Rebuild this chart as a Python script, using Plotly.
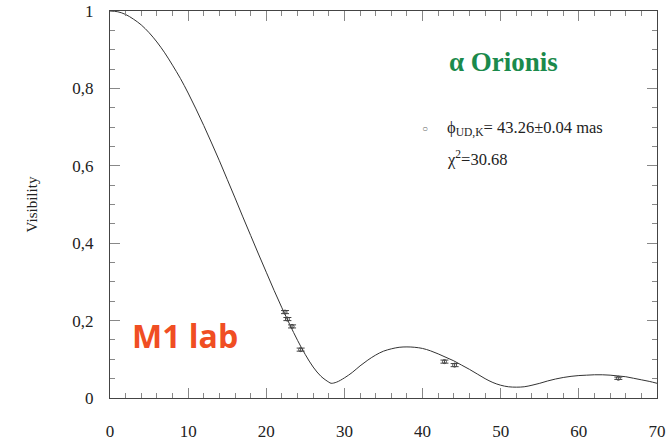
import plotly.graph_objects as go

# Model curve
curve_x = [0, 1, 2, 3, 4, 5, 6, 7, 8, 9, 10, 11, 12, 13, 14, 15, 16, 17, 18, 19, 20,
           21, 22, 23, 24, 25, 26, 27, 28, 28.3, 29, 30, 31, 32, 33, 34, 35, 36, 37, 38,
           39, 40, 41, 42, 43, 44, 45, 46, 47, 48, 49, 50, 51, 52, 53, 54, 55, 56, 57,
           58, 59, 60, 61, 62, 63, 64, 65, 66, 67, 68, 69, 70]
curve_y = [1.000, 0.998, 0.991, 0.979, 0.964, 0.944, 0.920, 0.892, 0.860, 0.826, 0.788,
           0.747, 0.704, 0.659, 0.613, 0.565, 0.517, 0.468, 0.420, 0.372, 0.325,
           0.278, 0.233, 0.190, 0.149, 0.112, 0.080, 0.056, 0.041, 0.038, 0.041, 0.052,
           0.066, 0.083, 0.098, 0.111, 0.121, 0.127, 0.131, 0.132, 0.131, 0.128, 0.122,
           0.114, 0.105, 0.096, 0.085, 0.074, 0.062, 0.050, 0.040, 0.033, 0.029, 0.028,
           0.029, 0.033, 0.038, 0.044, 0.049, 0.053, 0.056, 0.058, 0.059, 0.060, 0.060,
           0.059, 0.057, 0.055, 0.051, 0.047, 0.043, 0.038]

# Measured visibilities
obs_x = [22.4, 22.7, 23.3, 24.4, 42.8, 44.1, 65.05]
obs_y = [0.222, 0.204, 0.185, 0.125, 0.094, 0.085, 0.051]
obs_err = [0.004, 0.004, 0.004, 0.004, 0.004, 0.004, 0.003]

x_ticks = [0, 10, 20, 30, 40, 50, 60, 70]
y_ticks = [0, 0.2, 0.4, 0.6, 0.8, 1.0]
y_ticktext = ["0", "0,2", "0,4", "0,6", "0,8", "1"]

serif = "Liberation Serif"

W, H = 666, 444
L, R, T, B = 110, 9, 11, 46
pw, ph = W - L - R, H - T - B


def px(x):
    return (x - L) / pw


def py(y):
    return (H - B - y) / ph


fig = go.Figure()
fig.add_trace(go.Scatter(x=curve_x, y=curve_y, mode="lines", line=dict(color="#333", width=1, shape="spline"),
                         showlegend=False, hoverinfo="skip"))
fig.add_trace(go.Scatter(x=obs_x, y=obs_y, mode="markers",
                         marker=dict(symbol="circle-open", size=4, color="#444", line=dict(width=1)),
                         error_y=dict(type="data", array=obs_err, width=4, thickness=1, color="#444"),
                         showlegend=False))
# invisible trace carrying the label axis
fig.add_trace(go.Scatter(x=[x_ticks[0], x_ticks[-1]], y=[0, 0], xaxis="x2", mode="lines",
                         line=dict(color="rgba(0,0,0,0)"), showlegend=False, hoverinfo="skip"))

axis_common = dict(showline=True, linecolor="#444", linewidth=1, mirror="ticks", ticks="inside",
                   tickcolor="#888", ticklen=10, tickwidth=1, showgrid=False, zeroline=False,
                   automargin=False,
                   tickfont=dict(family=serif, size=17, color="#222"))

fig.update_layout(
    width=W, height=H,
    margin=dict(l=L, r=R, t=T, b=B, autoexpand=False),
    paper_bgcolor="white", plot_bgcolor="white",
    xaxis=dict(range=[0, 70], tickvals=x_ticks, showticklabels=False,
               minor=dict(ticks="inside", ticklen=5, dtick=2, tickcolor="#888"), **axis_common),
    xaxis2=dict(range=[0, 70], tickvals=x_ticks, overlaying="x", anchor="y", side="bottom",
                showline=False, showgrid=False, zeroline=False, automargin=False,
                ticks="outside", ticklen=18, tickcolor="rgba(0,0,0,0)",
                tickfont=dict(family=serif, size=17, color="#222")),
    yaxis=dict(range=[0, 1], tickvals=y_ticks, ticktext=y_ticktext, ticklabelstandoff=12,
               title=dict(text="Visibility", font=dict(family=serif, size=15, color="#222"), standoff=31),
               minor=dict(ticks="inside", ticklen=5, dtick=0.05, tickcolor="#888"), **axis_common),
    annotations=[
        dict(x=px(503), y=py(62), xref="paper", yref="paper", xanchor="center", yanchor="middle",
             text="<b>α Orionis</b>", showarrow=False,
             font=dict(family=serif, size=27, color="#1b8a4c")),
        dict(x=px(425), y=py(128), xref="paper", yref="paper", xanchor="center", yanchor="middle",
             text="○", showarrow=False, font=dict(family=serif, size=10, color="#666")),
        dict(x=px(445), y=py(128), xref="paper", yref="paper", xanchor="left", yanchor="middle",
             text="ϕ<sub>UD,K</sub>= 43.26±0.04 mas", showarrow=False,
             font=dict(family=serif, size=16.5, color="#222")),
        dict(x=px(445), y=py(158), xref="paper", yref="paper", xanchor="left", yanchor="middle",
             text="χ<sup>2</sup>=30.68", showarrow=False,
             font=dict(family=serif, size=16.5, color="#222")),
        dict(x=px(130), y=py(335), xref="paper", yref="paper", xanchor="left", yanchor="middle",
             text="<b>M1 lab</b>", showarrow=False,
             font=dict(family="Open Sans", size=32, color="#f04e23")),
    ],
)

fig.write_html("out.html")
